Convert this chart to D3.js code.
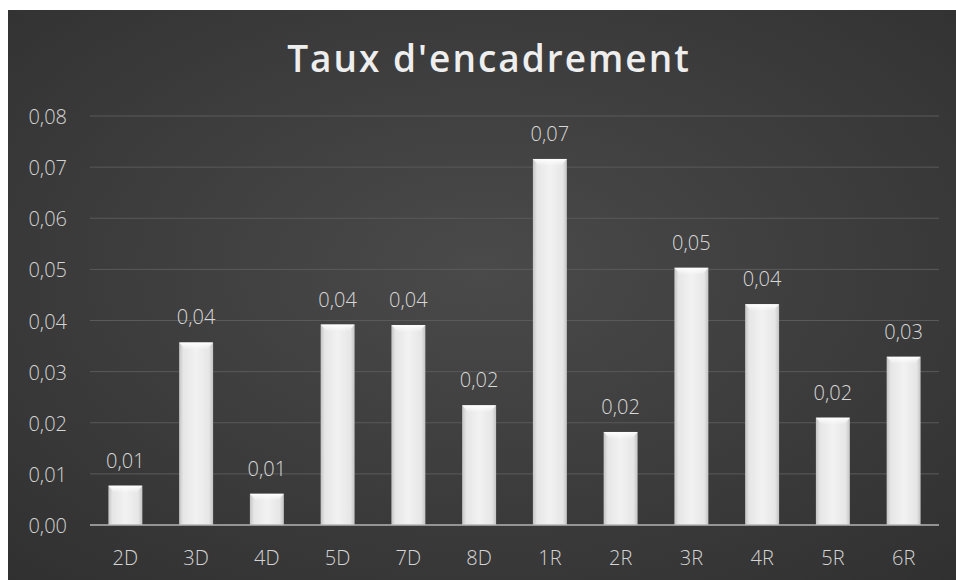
<!DOCTYPE html>
<html>
<head>
<meta charset="utf-8">
<style>
  body { margin: 0; background: #fff; }
  svg { display: block; }
</style>
</head>
<body>
<script src="https://d3js.org/d3.v7.min.js"></script>
<script>
var categories = ['2D', '3D', '4D', '5D', '7D', '8D', '1R', '2R', '3R', '4R', '5R', '6R'];
var values = [0.0077, 0.0357, 0.0061, 0.0392, 0.0391, 0.0234, 0.0716, 0.0182, 0.0503, 0.0432, 0.0210, 0.0329];
var yTicks = [0, 0.01, 0.02, 0.03, 0.04, 0.05, 0.06, 0.07, 0.08];
var title = "Taux d'encadrement";

var w = 956, h = 580;
var fr = d3.formatLocale({ decimal: ',', thousands: ' ', grouping: [3], currency: ['', ' €'] });
var fmt = fr.format('.2f');
var font = '"Open Sans", sans-serif';

var svg = d3.select('body').append('svg')
  .attr('width', w)
  .attr('height', h);

var defs = svg.append('defs');
var bg = defs.append('radialGradient').attr('id', 'bg')
  .attr('cx', '50%').attr('cy', '45%').attr('r', '75%');
bg.append('stop').attr('offset', '0%').attr('stop-color', '#4a4a4a');
bg.append('stop').attr('offset', '100%').attr('stop-color', '#303030');

var bar = defs.append('linearGradient').attr('id', 'bar')
  .attr('x1', '0%').attr('x2', '100%').attr('y1', '0%').attr('y2', '0%');
bar.append('stop').attr('offset', '0%').attr('stop-color', '#c4c4c4');
bar.append('stop').attr('offset', '12%').attr('stop-color', '#e6e6e6');
bar.append('stop').attr('offset', '50%').attr('stop-color', '#f2f2f2');
bar.append('stop').attr('offset', '88%').attr('stop-color', '#e6e6e6');
bar.append('stop').attr('offset', '100%').attr('stop-color', '#c4c4c4');

var bevel = defs.append('linearGradient').attr('id', 'bevel')
  .attr('x1', '0%').attr('x2', '0%').attr('y1', '0%').attr('y2', '100%');
bevel.append('stop').attr('offset', '0%').attr('stop-color', '#ffffff').attr('stop-opacity', 1);
bevel.append('stop').attr('offset', '100%').attr('stop-color', '#ffffff').attr('stop-opacity', 0);

// chart background
svg.append('rect')
  .attr('x', 8).attr('y', 10)
  .attr('width', w - 8).attr('height', h - 10)
  .attr('fill', 'url(#bg)');

var x = d3.scaleBand()
  .domain(categories)
  .range([90, 939])
  .paddingInner(0.52)
  .paddingOuter(0.26);

var y = d3.scaleLinear()
  .domain([0, 0.08])
  .range([525, 116]);

// gridlines
svg.append('g').selectAll('line')
  .data(yTicks.slice(1))
  .enter()
  .append('line')
  .attr('x1', 90).attr('x2', 939)
  .attr('y1', d => y(d)).attr('y2', d => y(d))
  .attr('stroke', '#5a5a5a')
  .attr('stroke-width', 1);

// y axis labels
var yAxis = d3.axisLeft(y).tickValues(yTicks).tickFormat(fmt).tickSize(0).tickPadding(0);
var gy = svg.append('g').attr('transform', 'translate(67,0)').call(yAxis);
gy.select('.domain').remove();
gy.selectAll('text')
  .attr('dy', '0.38em')
  .attr('fill', '#d4d4d4')
  .style('font-family', font)
  .style('font-weight', '300')
  .style('font-size', '20px');

// bars
var bars = svg.append('g').selectAll('g')
  .data(values)
  .enter()
  .append('g');

bars.append('rect')
  .attr('x', (d, i) => x(categories[i]))
  .attr('y', d => y(d))
  .attr('width', x.bandwidth())
  .attr('height', d => y(0) - y(d))
  .attr('fill', 'url(#bar)');

bars.append('path')
  .attr('d', function(d, i) {
    var x0 = x(categories[i]), bw = x.bandwidth(), t = y(d);
    return 'M' + x0 + ',' + t + 'L' + (x0 + bw) + ',' + t +
      'L' + (x0 + bw - 6) + ',' + (t + 7) + 'L' + (x0 + 6) + ',' + (t + 7) + 'Z';
  })
  .attr('fill', 'url(#bevel)');

// value labels
bars.append('text')
  .attr('x', (d, i) => x(categories[i]) + x.bandwidth() / 2)
  .attr('y', d => y(d) - 18)
  .attr('text-anchor', 'middle')
  .attr('fill', '#d8d8d8')
  .style('font-family', font)
  .style('font-weight', '300')
  .style('font-size', '20px')
  .text(d => fmt(d));

// baseline
svg.append('line')
  .attr('x1', 90).attr('x2', 939)
  .attr('y1', y(0)).attr('y2', y(0))
  .attr('stroke', '#b5b5b5')
  .attr('stroke-width', 1.5);

// x axis labels
var xAxis = d3.axisBottom(x).tickSize(0).tickPadding(0);
var gx = svg.append('g').attr('transform', 'translate(0,' + 565 + ')').call(xAxis);
gx.select('.domain').remove();
gx.selectAll('text')
  .attr('dy', 0)
  .attr('fill', '#d4d4d4')
  .style('font-family', font)
  .style('font-weight', '300')
  .style('font-size', '20px');

// title
svg.append('text')
  .attr('x', 489).attr('y', 72)
  .attr('text-anchor', 'middle')
  .attr('fill', '#eeeeee')
  .style('font-family', font)
  .style('font-weight', '600')
  .style('font-size', '37px')
  .style('letter-spacing', '2px')
  .text(title);
</script>
</body>
</html>
